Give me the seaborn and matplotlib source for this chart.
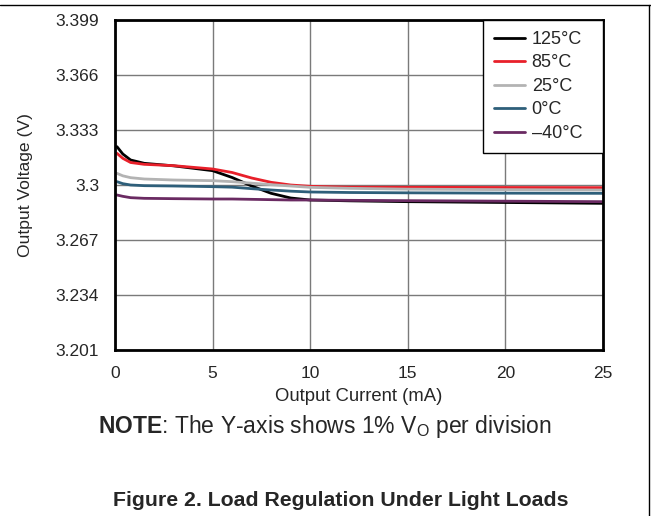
import pandas as pd
import matplotlib.pyplot as plt
import seaborn as sns
from matplotlib.lines import Line2D

# Output current (mA) sample points
current = [0.1, 0.4, 0.8, 1.5, 3, 5, 6, 7, 8, 9, 10, 12, 15, 20, 25]

# Output voltage (V) for each temperature
v_125 = [3.3230, 3.3186, 3.3150, 3.3130, 3.3115, 3.3086, 3.3045, 3.2994, 3.2950, 3.2922, 3.2910, 3.2905, 3.2900, 3.2895, 3.2890]
v_85 = [3.3190, 3.3160, 3.3135, 3.3124, 3.3116, 3.3096, 3.3075, 3.3042, 3.3016, 3.3000, 3.2992, 3.2987, 3.2986, 3.2985, 3.2984]
v_25 = [3.3070, 3.3055, 3.3044, 3.3036, 3.3030, 3.3026, 3.3020, 3.3011, 3.3002, 3.2994, 3.2986, 3.2980, 3.2975, 3.2972, 3.2970]
v_0 = [3.3020, 3.3008, 3.3000, 3.2996, 3.2994, 3.2990, 3.2987, 3.2978, 3.2970, 3.2963, 3.2958, 3.2955, 3.2953, 3.2951, 3.2950]
v_m40 = [3.2940, 3.2932, 3.2924, 3.2920, 3.2918, 3.2916, 3.2916, 3.2914, 3.2912, 3.2910, 3.2910, 3.2908, 3.2906, 3.2903, 3.2900]

temps = ['125°C', '85°C', '25°C', '0°C', '–40°C']
colours = ['#000000', '#e8202a', '#b3b3b3', '#2e5f7a', '#6a2a62']
y_ticks = [3.201, 3.234, 3.267, 3.3, 3.333, 3.366, 3.399]
y_labels = ['3.201', '3.234', '3.267', '3.3', '3.333', '3.366', '3.399']
x_ticks = [0, 5, 10, 15, 20, 25]

# Building a long table for seaborn
frames = []
for t, v in zip(temps, [v_125, v_85, v_25, v_0, v_m40]):
    frames.append(pd.DataFrame({'Current': current, 'Voltage': v, 'Temp': t}))
df = pd.concat(frames)

sns.set_style('white')
plt.rcParams['font.family'] = ['Liberation Sans', 'DejaVu Sans']
plt.rcParams['mathtext.fontset'] = 'custom'
plt.rcParams['mathtext.rm'] = 'Liberation Sans'
plt.rcParams['mathtext.bf'] = 'Liberation Sans:bold'

fig = plt.figure(figsize=(6.51, 5.16), dpi=100)
ax = fig.add_axes([115/651, 1-350/516, 488/651, 330/516])

sns.lineplot(data=df, x='Current', y='Voltage', hue='Temp', hue_order=temps,
             palette=dict(zip(temps, colours)), linewidth=2, ax=ax)

ax.set_xlim(0, 25)
ax.set_ylim(3.201, 3.399)
ax.set_xticks(x_ticks)
ax.set_xticklabels([str(x) for x in x_ticks])
ax.set_yticks(y_ticks)
ax.set_yticklabels(y_labels)
ax.tick_params(labelsize=12.5, length=0, pad=11.5)
ax.grid(True, color='#7a7a7a', linewidth=1)
for s in ax.spines.values():
    s.set_color('black')
    s.set_linewidth(2)
ax.set_xlabel('Output Current (mA)', fontsize=13.3)
ax.set_ylabel('Output Voltage (V)', fontsize=12.6)
ax.xaxis.set_label_coords(0.5, -38/330)
ax.yaxis.set_label_coords(-82/488, 0.5)

# legend box spans x 483..603 px
leg = ax.legend(loc='upper right', bbox_to_anchor=(368/488, 0, 120/488, 1), mode='expand',
                borderaxespad=0, fontsize=13, handlelength=1.7,
                fancybox=False, edgecolor='black', framealpha=1, borderpad=0.6,
                labelspacing=0.36, handletextpad=0.4)
leg.get_frame().set_linewidth(1)

fig.text(98/651, 1-426/516, r'$\mathbf{NOTE}$: The Y-axis shows 1% V$_\mathrm{O}$ per division',
         ha='left', va='center', fontsize=16.5)
fig.text(113/651, 1-501/516, 'Figure 2. Load Regulation Under Light Loads',
         ha='left', va='center', fontsize=15.3, fontweight='bold')

# outer frame lines (top and right)
fig.add_artist(Line2D([0, 1], [1-5/516, 1-5/516], color='black', linewidth=1, transform=fig.transFigure))
fig.add_artist(Line2D([649/651, 649/651], [0, 1-5/516], color='black', linewidth=1, transform=fig.transFigure))

fig.savefig('out.png', dpi=100)
